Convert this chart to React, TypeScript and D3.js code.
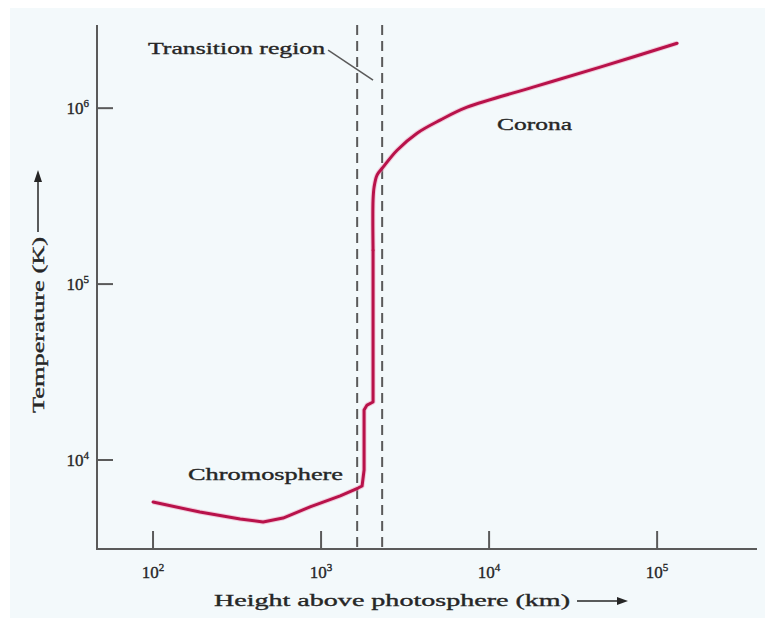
import React from "react";
import * as d3 from "d3";

// Height above photosphere (km) and temperature (K) along the curve
const heightsKm = [100, 190, 330, 452, 594, 860, 1300, 1660, 1754, 1803, 1803, 1878, 2039, 2039, 2039, 2068, 2154, 2339, 2835, 3727, 5109, 7396, 18280, 45800, 131500];
const temperaturesK = [5770, 5060, 4620, 4440, 4680, 5410, 6250, 6930, 7120, 8780, 19240, 20530, 21360, 156000, 300100, 355800, 416300, 462000, 577000, 721000, 855000, 1013000, 1316000, 1710000, 2340000];
// index where the smooth coronal part of the curve begins
const coronaStartIndex = 13;

const xTicks = [1e2, 1e3, 1e4, 1e5];
const xTickExponents = ["2", "3", "4", "5"];
const yTicks = [1e4, 1e5, 1e6];
const yTickExponents = ["4", "5", "6"];

const transitionBoundsKm = [1640, 2310];

const xDomain = [46.4, 393000];
const yDomain = [3120, 2.97e6];

const FONT = "'Liberation Serif', 'DejaVu Serif', serif";
const TEXT = "#262626";
const AXIS = "#5a5a5a";
const CURVE = "#b8124a";

export default function App() {
  const x = d3.scaleLog().domain(xDomain).range([97, 757]);
  const y = d3.scaleLog().domain(yDomain).range([549, 25]);
  const [x0, x1] = x.range();
  const [y0, y1] = y.range();

  const pts: [number, number][] = heightsKm.map((h, i) => [h, temperaturesK[i]]);
  const lowPts = pts.slice(0, coronaStartIndex + 1);
  const highPts = pts.slice(coronaStartIndex);

  const linear = d3
    .line<[number, number]>()
    .x((d) => x(d[0]))
    .y((d) => y(d[1]))
    .curve(d3.curveLinear);
  const smooth = d3
    .line<[number, number]>()
    .x((d) => x(d[0]))
    .y((d) => y(d[1]))
    .curve(d3.curveCatmullRom.alpha(0.5));

  const dLow = linear(lowPts) || "";
  const dHigh = smooth(highPts) || "";

  // label anchors in data space
  const trX = x(93.4), trY = y(2.03e6);
  const leaderA: [number, number] = [x(1101), y(2.136e6)];
  const leaderB: [number, number] = [x(2039), y(1.442e6)];
  const chX = x(161.6), chY = y(7690);
  const coX = x(11160), coY = y(750000);

  const xLabelY = 606;
  const xArrowY = 601;
  const yLabelX = 44;
  const thick = { stroke: TEXT, strokeWidth: 0.35 };

  return (
    <svg
      width={765}
      height={618}
      style={{ position: "absolute", left: 0, top: 0, display: "block" }}
      fontFamily={FONT}
    >
      <rect x={0} y={0} width={765} height={618} fill="#ffffff" />
      <rect x={10} y={8} width={755} height={610} fill="#f3f9fb" />

      {/* transition region dashed lines */}
      {transitionBoundsKm.map((b, i) => (
        <line
          key={i}
          x1={x(b)}
          x2={x(b)}
          y1={y1}
          y2={y0}
          stroke={AXIS}
          strokeWidth={2}
          strokeDasharray="10,6"
        />
      ))}

      {/* axes */}
      <line x1={x0} x2={x0} y1={y1} y2={y0 + 1} stroke={AXIS} strokeWidth={2} />
      <line x1={x0 - 1} x2={x1} y1={y0} y2={y0} stroke={AXIS} strokeWidth={2} />

      {xTicks.map((t, i) => (
        <g key={i}>
          <line x1={x(t)} x2={x(t)} y1={y0} y2={y0 - 18} stroke={AXIS} strokeWidth={2} />
          <text x={x(t)} y={y0 + 29} textAnchor="middle" fontSize={17} fill={TEXT} {...thick}>
            10
            <tspan dy={-7} fontSize={11}>
              {xTickExponents[i]}
            </tspan>
          </text>
        </g>
      ))}
      {yTicks.map((t, i) => (
        <g key={i}>
          <line x1={x0} x2={x0 + 16} y1={y(t)} y2={y(t)} stroke={AXIS} strokeWidth={2} />
          <text x={89} y={y(t) + 6} textAnchor="end" fontSize={17} fill={TEXT} {...thick}>
            10
            <tspan dy={-7} fontSize={11}>
              {yTickExponents[i]}
            </tspan>
          </text>
        </g>
      ))}

      {/* curve */}
      {[dLow, dHigh].map((d, i) => (
        <g key={i}>
          <path d={d} fill="none" stroke="#f0a0bd" strokeWidth={5} strokeLinejoin="round" opacity={0.5} />
          <path d={d} fill="none" stroke={CURVE} strokeWidth={3} strokeLinejoin="round" strokeLinecap="round" />
        </g>
      ))}

      {/* annotations */}
      <text x={trX} y={trY} fontSize={17} fill={TEXT} {...thick} textLength={177} lengthAdjust="spacingAndGlyphs">
        Transition region
      </text>
      <line x1={leaderA[0]} y1={leaderA[1]} x2={leaderB[0]} y2={leaderB[1]} stroke={AXIS} strokeWidth={1.5} />
      <text x={chX} y={chY} fontSize={17} fill={TEXT} {...thick} textLength={155} lengthAdjust="spacingAndGlyphs">
        Chromosphere
      </text>
      <text x={coX} y={coY} fontSize={17} fill={TEXT} {...thick} textLength={75} lengthAdjust="spacingAndGlyphs">
        Corona
      </text>

      {/* x axis title */}
      <text x={214} y={xLabelY} fontSize={17} fill={TEXT} {...thick} textLength={356} lengthAdjust="spacingAndGlyphs">
        Height above photosphere (km)
      </text>
      <line x1={577} x2={620} y1={xArrowY} y2={xArrowY} stroke={TEXT} strokeWidth={1.5} />
      <path d={`M${628},${xArrowY} L${617},${xArrowY - 4} L${617},${xArrowY + 4} Z`} fill={TEXT} />

      {/* y axis title */}
      <text
        transform={`translate(${yLabelX},413) rotate(-90)`}
        x={0}
        y={0}
        fontSize={17}
        fill={TEXT}
        {...thick}
        textLength={176}
        lengthAdjust="spacingAndGlyphs"
      >
        Temperature (K)
      </text>
      <line x1={yLabelX - 6} x2={yLabelX - 6} y1={232} y2={180} stroke={TEXT} strokeWidth={1.5} />
      <path
        d={`M${yLabelX - 6},${170} L${yLabelX - 10},${182} L${yLabelX - 2},${182} Z`}
        fill={TEXT}
      />
    </svg>
  );
}
